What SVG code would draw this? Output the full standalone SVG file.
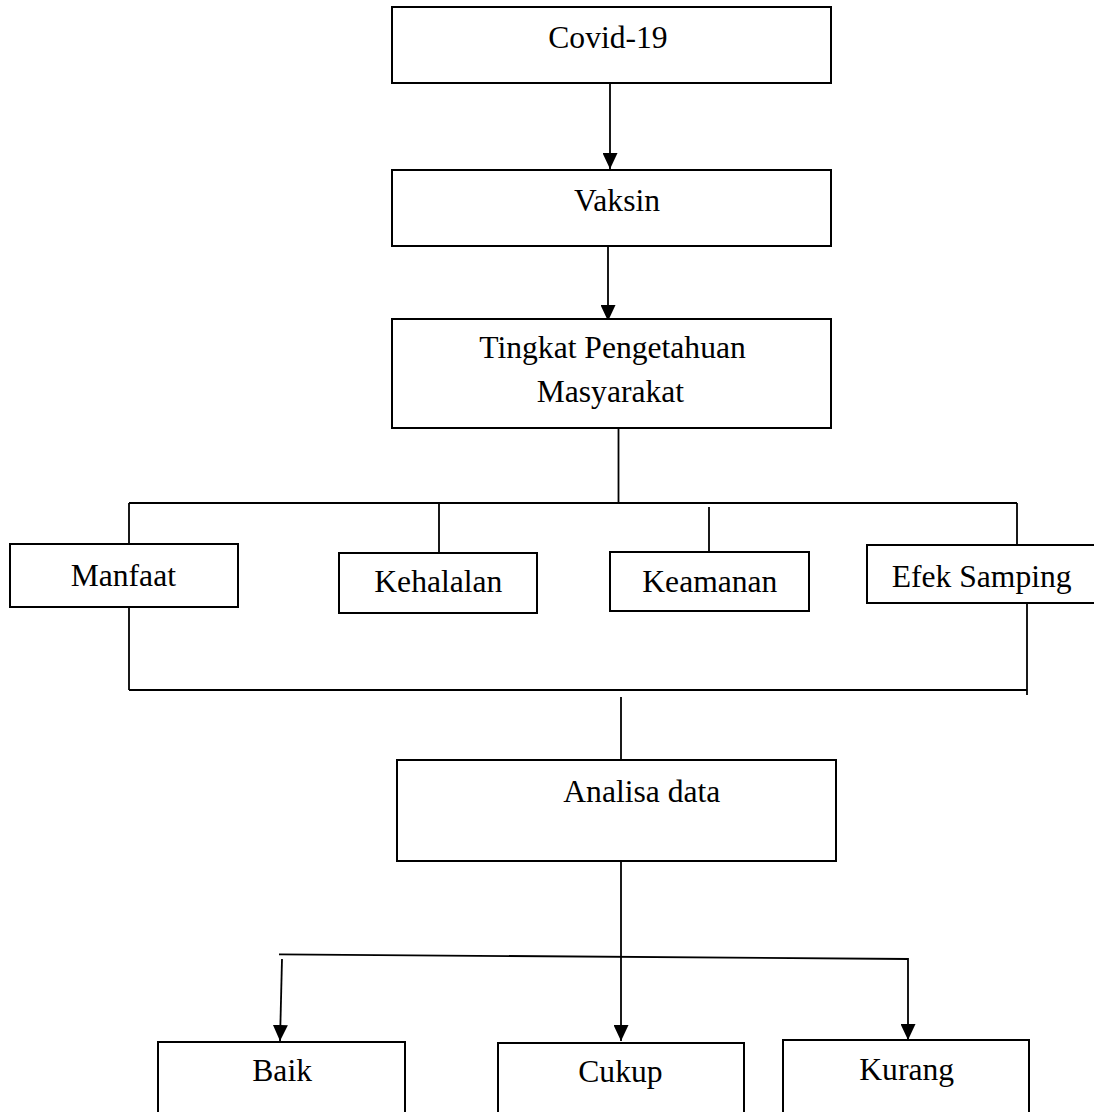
<svg xmlns="http://www.w3.org/2000/svg" width="1094" height="1112" viewBox="0 0 1094 1112">
<style>
.box{fill:#fff;stroke:#000;stroke-width:2}
.ln{fill:none;stroke:#000;stroke-width:1.8}
.t{font-family:"Liberation Serif","Times New Roman",serif;font-size:31.6px;fill:#000}
</style>
<defs>
<marker id="ah" viewBox="0 0 16 15" refX="16" refY="7.5" markerWidth="16" markerHeight="15" markerUnits="userSpaceOnUse" orient="auto">
<path d="M0,0 L16,7.5 L0,15 z" fill="#000"/>
</marker>
</defs>
<rect width="1094" height="1112" fill="#fff"/>
<g id="connectors">
<line class="ln" x1="610" y1="83" x2="610" y2="169" marker-end="url(#ah)"/>
<line class="ln" x1="608" y1="246" x2="608" y2="321" marker-end="url(#ah)"/>
<line class="ln" x1="618.5" y1="428" x2="618.5" y2="503"/>
<line class="ln" x1="129" y1="503" x2="1017" y2="503"/>
<line class="ln" x1="129" y1="503" x2="129" y2="544"/>
<line class="ln" x1="439" y1="503" x2="439" y2="553"/>
<line class="ln" x1="709" y1="507" x2="709" y2="552"/>
<line class="ln" x1="1017" y1="503" x2="1017" y2="545"/>
<line class="ln" x1="129" y1="607" x2="129" y2="690"/>
<line class="ln" x1="1027" y1="603" x2="1027" y2="695"/>
<line class="ln" x1="129" y1="690" x2="1027" y2="690"/>
<line class="ln" x1="621" y1="697" x2="621" y2="760"/>
<line class="ln" x1="621" y1="861" x2="621" y2="1041" marker-end="url(#ah)"/>
<polyline class="ln" points="279,954.3 908,959 908,1040" marker-end="url(#ah)"/>
<line class="ln" x1="282" y1="959" x2="280" y2="1041" marker-end="url(#ah)"/>
</g>
<g id="covid"><rect class="box" x="392" y="7" width="439" height="76"/><text class="t" x="548.3" y="48.3">Covid-19</text></g>
<g id="vaksin"><rect class="box" x="392" y="170" width="439" height="76"/><text class="t" x="574" y="210.7">Vaksin</text></g>
<g id="tingkat"><rect class="box" x="392" y="319" width="439" height="109"/><text class="t" x="479.3" y="358.3">Tingkat Pengetahuan</text><text class="t" x="536.7" y="401.7">Masyarakat</text></g>
<g id="manfaat"><rect class="box" x="10" y="544" width="228" height="63"/><text class="t" x="70.7" y="585.7">Manfaat</text></g>
<g id="kehalalan"><rect class="box" x="339" y="553" width="198" height="60"/><text class="t" x="374.3" y="591.7">Kehalalan</text></g>
<g id="keamanan"><rect class="box" x="610" y="552" width="199" height="59"/><text class="t" x="642.3" y="592.3">Keamanan</text></g>
<g id="efek"><rect class="box" x="867" y="545" width="240" height="58"/><text class="t" x="891.7" y="586.7">Efek Samping</text></g>
<g id="analisa"><rect class="box" x="397" y="760" width="439" height="101"/><text class="t" x="563.3" y="802">Analisa data</text></g>
<g id="baik"><rect class="box" x="158" y="1042" width="247" height="80"/><text class="t" x="252.3" y="1081">Baik</text></g>
<g id="cukup"><rect class="box" x="498" y="1043" width="246" height="80"/><text class="t" x="578.3" y="1081.7">Cukup</text></g>
<g id="kurang"><rect class="box" x="783" y="1040" width="246" height="80"/><text class="t" x="859.3" y="1080">Kurang</text></g>
</svg>
